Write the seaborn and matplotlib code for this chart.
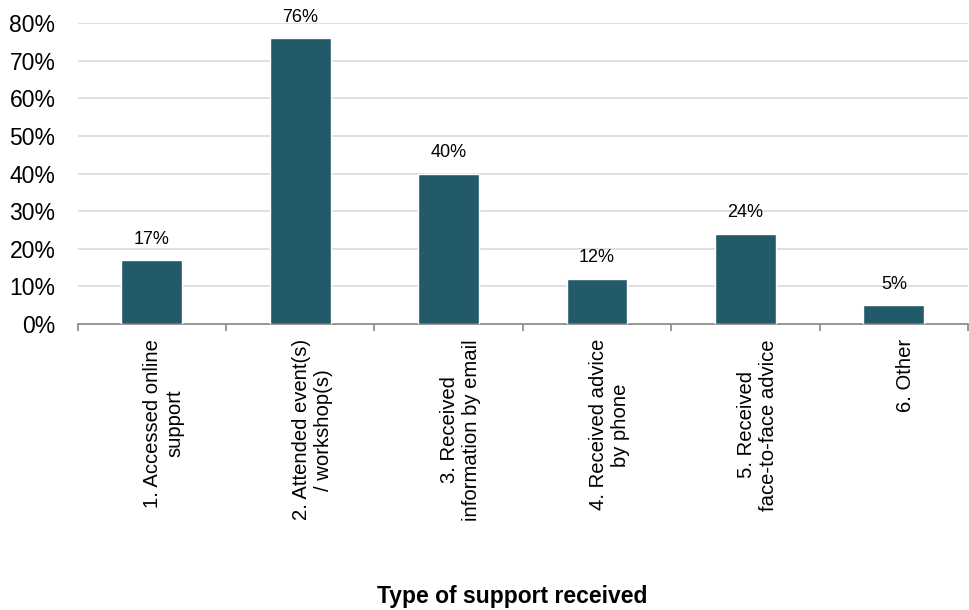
import matplotlib
matplotlib.use("Agg")
import matplotlib.pyplot as plt
import matplotlib.transforms as mtransforms
import seaborn as sns
import pandas as pd
from matplotlib.ticker import PercentFormatter, FixedLocator

categories = [
    "1. Accessed online\nsupport",
    "2. Attended event(s)\n/ workshop(s)",
    "3. Received\ninformation by email",
    "4. Received advice\nby phone",
    "5. Received\nface-to-face advice",
    "6. Other",
]
shares = [17, 76, 40, 12, 24, 5]
y_ticks = [0, 10, 20, 30, 40, 50, 60, 70, 80]

sns.set_theme(style="white")
plt.rcParams["font.family"] = ["Liberation Sans", "DejaVu Sans"]
plt.rcParams["text.color"] = "#000000"
plt.rcParams["xtick.color"] = "#000000"
plt.rcParams["ytick.color"] = "#000000"

df = pd.DataFrame({"category": categories, "share": shares})

fig = plt.figure(figsize=(9.7, 6.1), dpi=100)
ax = fig.add_axes([0.080, 0.469, 0.918, 0.493])

sns.barplot(data=df, x="category", y="share", color="#235A69", width=0.41,
            saturation=1, ax=ax, zorder=3)

ax.set_ylim(0, 80)
ax.set_xlim(-0.5, len(categories) - 0.5)
ax.yaxis.set_major_locator(FixedLocator(y_ticks))
ax.yaxis.set_major_formatter(PercentFormatter(decimals=0))
ax.grid(axis="y", color="#D9D9D9", linewidth=1.2, zorder=0)
ax.tick_params(axis="y", length=0, labelsize=16.5, pad=16)

for s in ["left", "right", "top"]:
    ax.spines[s].set_visible(False)
ax.spines["bottom"].set_color("#888888")
ax.spines["bottom"].set_linewidth(1.2)

# category labels at bar centres, tick marks at category boundaries
ax.set_xticks(range(len(categories)))
ax.set_xticklabels(categories, rotation=90, ha="center", va="top",
                   multialignment="center", fontsize=14.6)
ax.tick_params(axis="x", which="major", length=0, pad=11)
ax.set_xticks([i - 0.5 for i in range(len(categories) + 1)], minor=True)
ax.tick_params(axis="x", which="minor", bottom=True, length=5, width=1.2,
               color="#888888", direction="out")
ax.set_xlabel("")
ax.set_ylabel("")

# nudge the rotated category labels slightly to the right
shift = mtransforms.ScaledTranslation(0.12, 0, fig.dpi_scale_trans)
for lbl in ax.get_xticklabels():
    lbl.set_transform(lbl.get_transform() + shift)

for i, v in enumerate(shares):
    ax.annotate(f"{v}%", (i, v), xytext=(0, 9), textcoords="offset points",
                ha="center", va="bottom", fontsize=13)

fig.text(512 / 970, 1 - 596 / 610, "Type of support received", ha="center",
         va="center", fontsize=16.5, fontweight="bold")

fig.savefig("out.png", dpi=100)
